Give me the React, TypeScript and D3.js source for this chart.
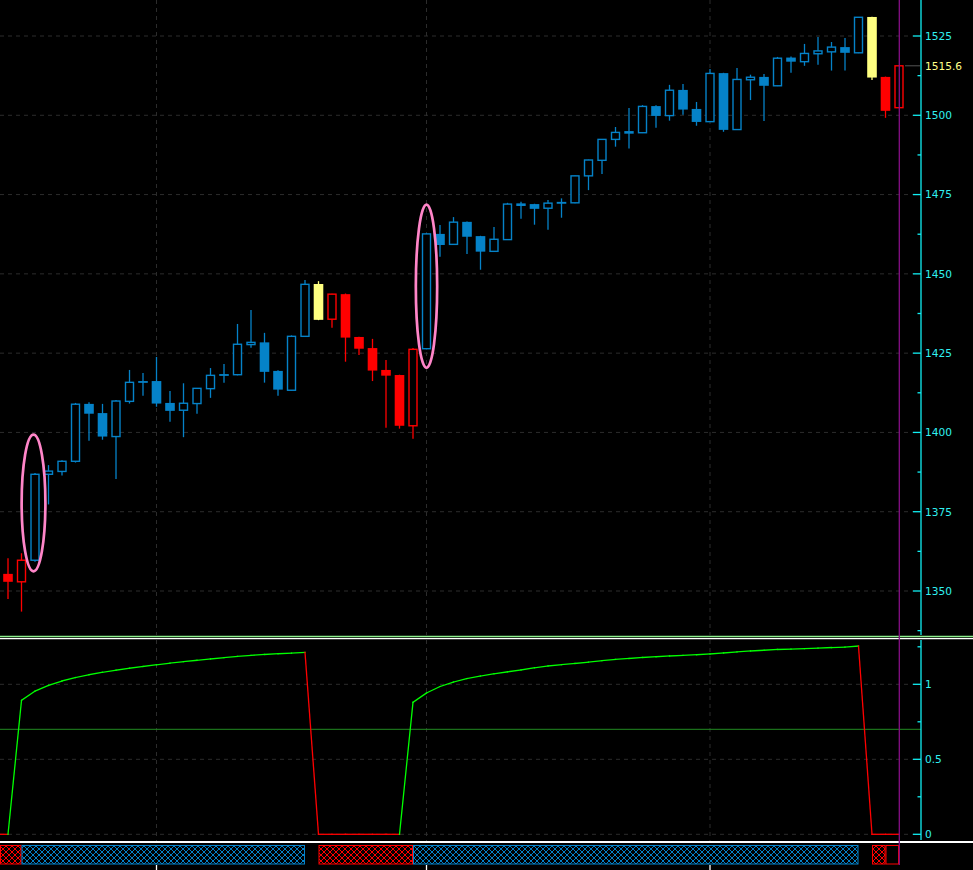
import React from 'react';
import * as d3 from 'd3';

// ---------- DATA ----------
const opens = [1355.4,1352.9,1359.7,1386.8,1387.7,1390.9,1409.0,1406.1,1398.7,1409.8,1416.2,1416.2,1409.3,1407.0,1409.1,1413.8,1418.4,1418.2,1427.7,1428.4,1419.4,1413.3,1430.3,1446.8,1435.7,1443.6,1430.1,1426.6,1419.7,1418.1,1402.1,1426.4,1462.6,1459.3,1466.4,1461.9,1457.1,1460.8,1471.8,1472.0,1470.7,1472.7,1472.4,1480.9,1485.8,1492.4,1494.7,1494.5,1502.9,1499.9,1508.0,1502.0,1498.0,1513.3,1495.5,1511.2,1512.1,1509.3,1518.2,1516.9,1519.4,1520.0,1521.5,1519.7,1531.0,1512.1,1502.4];
const highs = [1360.3,1361.9,1387.2,1389.7,1391.2,1409.3,1409.5,1409.0,1410.2,1419.7,1418.7,1423.8,1413.1,1415.5,1414.0,1420.3,1421.6,1434.2,1438.6,1431.4,1419.6,1430.6,1448.1,1447.7,1443.7,1443.8,1430.2,1429.5,1422.8,1418.2,1426.6,1462.8,1465.4,1467.9,1466.5,1462.0,1464.8,1472.4,1472.7,1472.1,1473.3,1473.8,1481.0,1486.0,1492.5,1496.3,1502.3,1503.2,1503.2,1509.6,1509.9,1504.2,1514.6,1513.4,1514.9,1512.8,1513.0,1518.4,1518.5,1522.5,1524.7,1523.1,1524.4,1531.0,1531.1,1512.2,1515.7];
const lows = [1347.5,1343.5,1359.2,1377.3,1386.4,1390.5,1397.4,1397.7,1385.3,1409.1,1411.6,1408.1,1403.4,1398.5,1405.9,1410.9,1415.7,1418.0,1426.7,1415.7,1411.6,1413.2,1430.2,1435.4,1433.0,1422.3,1424.4,1416.2,1401.5,1401.2,1398.0,1426.2,1455.4,1459.2,1456.3,1451.3,1457.0,1460.7,1467.4,1465.5,1463.9,1467.7,1472.3,1476.4,1481.5,1490.1,1489.5,1494.4,1496.1,1498.3,1500.2,1496.7,1497.9,1494.8,1495.4,1504.8,1498.2,1509.2,1513.4,1515.6,1515.9,1514.1,1514.1,1519.6,1511.1,1499.2,1502.3];
const closes = [1352.9,1359.7,1386.8,1387.8,1390.9,1408.9,1405.9,1398.7,1409.9,1415.8,1415.7,1409.1,1406.8,1409.2,1413.9,1418.0,1417.9,1427.8,1428.4,1419.1,1413.5,1430.3,1446.7,1435.5,1443.6,1429.9,1426.4,1419.5,1417.9,1402.1,1426.2,1462.6,1459.1,1466.3,1461.7,1457.0,1460.9,1472.0,1472.0,1470.5,1472.3,1472.1,1480.9,1485.9,1492.4,1494.6,1494.8,1502.8,1499.8,1507.9,1501.8,1497.9,1513.2,1495.4,1511.3,1512.0,1509.3,1518.0,1516.9,1519.5,1520.3,1521.5,1519.7,1530.9,1511.9,1501.4,1515.6];
// R = red, B = blue, Y = yellow
const candleColor = 'RRBBBBBBBBBBBBBBBBBBBBBYRRRRRRRBBBBBBBBBBBBBBBBBBBBBBBBBBBBBBBBBYRR'.split('');

// indicator, starting at candle index -1
const indicatorStart = -1;
const indicatorValues = [0,0,0.893,0.955,0.993,1.022,1.045,1.064,1.08,1.094,1.107,1.119,1.13,1.141,1.151,1.16,1.169,1.178,1.186,1.193,1.199,1.204,1.208,1.213,
  0,0,0,0,0,0,0,
  0.88,0.942,0.985,1.015,1.038,1.055,1.07,1.083,1.096,1.11,1.122,1.131,1.139,1.148,1.158,1.166,1.172,1.179,1.184,1.189,1.193,1.197,1.202,1.209,1.216,1.222,1.227,1.232,1.235,1.238,1.241,1.245,1.248,1.255,
  0,0,0];

// state strip: segment ending at candle i. R = red hatch, B = blue hatch, - = none, O = red outline
const stripState = 'RRBBBBBBBBBBBBBBBBBBBBB-RRRRRRRBBBBBBBBBBBBBBBBBBBBBBBBBBBBBBBBB-RO'.split('');

const priceTicks = [1350, 1375, 1400, 1425, 1450, 1475, 1500, 1525];
const priceMinorTicks = [1337.5, 1362.5, 1387.5, 1412.5, 1437.5, 1462.5, 1487.5, 1512.5];
const indTicks = [0, 0.5, 1];
const indTickLabels = ['0', '0.5', '1'];
const indMinorTicks = [0.25, 0.75, 1.25];
const timeGridIdx = [11, 31, 52];
const lastPrice = 1515.6;
const indLevel = 0.7;

// highlight ellipses (candle index, top price, bottom price, half-width in bars)
const ellipseIdx = [1.89, 31.0];
const ellipseTop = [1399.3, 1471.8];
const ellipseBottom = [1356.2, 1420.4];
const ellipseHalfBars = [0.88, 0.79];

// ---------- COLORS ----------
const COL: Record<string, string> = { R: '#ff0000', B: '#0582c8', Y: '#ffff80' };
const AXIS = '#10f0f4';
const LABEL = '#30f0f0';
const GRID = '#2c2c2c';

export default function App() {
  const W = 973, H = 870;
  const axisX = 921;
  const x = d3.scaleLinear().domain([0, 66]).range([8, 899]);
  const bar = x(1) - x(0);
  const yP = d3.scaleLinear().domain([1350, 1525]).range([591, 36]);
  const yI = d3.scaleLinear().domain([0, 1]).range([834.3, 684.3]);

  const priceTop = 0, priceBottom = 635;
  const indTop = 640, indBottom = 841;
  const stripTop = 845.5, stripBottom = 864;

  const runs: { s: string; a: number; b: number }[] = [];
  stripState.forEach((s, i) => {
    const a = Math.max(0, x(i - 1));
    const b = x(i);
    const last = runs[runs.length - 1];
    if (last && last.s === s) last.b = b;
    else runs.push({ s, a, b });
  });

  const font = '"DejaVu Sans", sans-serif';
  const fs = 10.6;

  return (
    <svg width={W} height={H} style={{ position: 'absolute', left: 0, top: 0, display: 'block', background: '#000' }}>
      <defs>
        <pattern id="hatchR" width="6" height="6" patternUnits="userSpaceOnUse">
          <rect width="6" height="6" fill="#000" />
          <path d="M0,0L6,6M6,0L0,6" stroke="#ff0000" strokeWidth="1" />
        </pattern>
        <pattern id="hatchB" width="6" height="6" patternUnits="userSpaceOnUse">
          <rect width="6" height="6" fill="#000" />
          <path d="M0,0L6,6M6,0L0,6" stroke="#0582c8" strokeWidth="1" />
        </pattern>
      </defs>
      <rect width={W} height={H} fill="#000" />

      {priceTicks.map((p) => (
        <line key={'gp' + p} x1={0} x2={913} y1={yP(p)} y2={yP(p)} stroke={GRID} strokeDasharray="4,4" />
      ))}
      {indTicks.map((v) => (
        <line key={'gi' + v} x1={0} x2={913} y1={yI(v)} y2={yI(v)} stroke={GRID} strokeDasharray="4,4" />
      ))}
      {timeGridIdx.map((i) => (
        <g key={'gv' + i}>
          <line x1={x(i)} x2={x(i)} y1={priceTop} y2={priceBottom} stroke={GRID} strokeDasharray="4,4" />
          <line x1={x(i)} x2={x(i)} y1={indTop} y2={indBottom} stroke={GRID} strokeDasharray="4,4" />
          <line x1={x(i)} x2={x(i)} y1={865} y2={870} stroke="#fff" strokeWidth={1.3} />
        </g>
      ))}

      {opens.map((o, i) => {
        const c = closes[i];
        const cx = x(i);
        const col = COL[candleColor[i]];
        const up = c >= o;
        const top = yP(Math.max(o, c));
        const bot = yP(Math.min(o, c));
        const h = Math.max(bot - top, 1.2);
        return (
          <g key={'c' + i}>
            <line x1={cx} x2={cx} y1={yP(highs[i])} y2={yP(lows[i])} stroke={col} strokeWidth={1.3} />
            {up ? (
              <rect x={cx - 4} y={top} width={8} height={h} fill="#000" stroke={col} strokeWidth={1.4} />
            ) : (
              <rect x={cx - 4.8} y={top} width={9.6} height={Math.max(h, 1.8)} fill={col} />
            )}
          </g>
        );
      })}

      {ellipseIdx.map((ei, k) => (
        <ellipse key={'e' + k} cx={x(ei)} cy={(yP(ellipseTop[k]) + yP(ellipseBottom[k])) / 2}
          rx={ellipseHalfBars[k] * bar} ry={(yP(ellipseBottom[k]) - yP(ellipseTop[k])) / 2}
          fill="none" stroke="#ff85c8" strokeWidth={2.7} />
      ))}

      <line x1={0} x2={axisX} y1={yI(indLevel)} y2={yI(indLevel)} stroke="#228b22" strokeWidth={1} />

      {indicatorValues.slice(1).map((v, k) => {
        const i1 = indicatorStart + k;
        const i2 = i1 + 1;
        const v1 = indicatorValues[k];
        return (
          <line key={'iv' + k} x1={Math.max(0, x(i1))} y1={yI(v1)} x2={x(i2)} y2={yI(v)}
            stroke={v > 0 ? '#00ff00' : '#ff0000'} strokeWidth={1.3} strokeLinecap="square" />
        );
      })}

      {runs.filter((r) => r.s !== '-').map((r, k) => (
        <rect key={'s' + k} x={r.a + 0.5} y={stripTop} width={r.b - r.a - 1} height={stripBottom - stripTop}
          fill={r.s === 'R' ? 'url(#hatchR)' : r.s === 'B' ? 'url(#hatchB)' : '#000'}
          stroke={r.s === 'B' ? '#0582c8' : '#ff0000'} strokeWidth={1} />
      ))}

      <line x1={0} x2={W} y1={636.5} y2={636.5} stroke="#8ef08e" strokeWidth={1.5} />
      <line x1={0} x2={W} y1={638.6} y2={638.6} stroke="#ffffff" strokeWidth={1.3} />
      <line x1={0} x2={W} y1={842} y2={842} stroke="#ffffff" strokeWidth={1.8} />

      <line x1={x(66) + 0.3} x2={x(66) + 0.3} y1={0} y2={865} stroke="#860f86" strokeWidth={1.3} />

      <line x1={axisX} x2={axisX} y1={priceTop} y2={priceBottom} stroke={AXIS} strokeWidth={1.3} />
      {priceTicks.map((p) => (
        <g key={'pt' + p}>
          <line x1={913} x2={axisX} y1={yP(p)} y2={yP(p)} stroke={AXIS} strokeWidth={1.3} />
          <text x={925} y={yP(p)} dy="0.36em" fill={LABEL} fontFamily={font} fontSize={fs}>{p}</text>
        </g>
      ))}
      {priceMinorTicks.map((p) => (
        <line key={'pm' + p} x1={917.5} x2={axisX} y1={yP(p)} y2={yP(p)} stroke={AXIS} strokeWidth={1.3} />
      ))}
      <line x1={905} x2={axisX - 1} y1={yP(lastPrice)} y2={yP(lastPrice)} stroke="#555" strokeWidth={1} />
      <text x={925} y={yP(lastPrice)} dy="0.36em" fill="#ffff88" fontFamily={font} fontSize={fs}>{lastPrice.toFixed(1)}</text>

      <line x1={axisX} x2={axisX} y1={indTop} y2={indBottom - 1} stroke={AXIS} strokeWidth={1.3} />
      {indTicks.map((v, k) => (
        <g key={'it' + v}>
          <line x1={913} x2={axisX} y1={yI(v)} y2={yI(v)} stroke={AXIS} strokeWidth={1.3} />
          <text x={925} y={yI(v)} dy="0.36em" fill={LABEL} fontFamily={font} fontSize={fs}>{indTickLabels[k]}</text>
        </g>
      ))}
      {indMinorTicks.map((v) => (
        <line key={'im' + v} x1={917.5} x2={axisX} y1={yI(v)} y2={yI(v)} stroke={AXIS} strokeWidth={1.3} />
      ))}
    </svg>
  );
}
